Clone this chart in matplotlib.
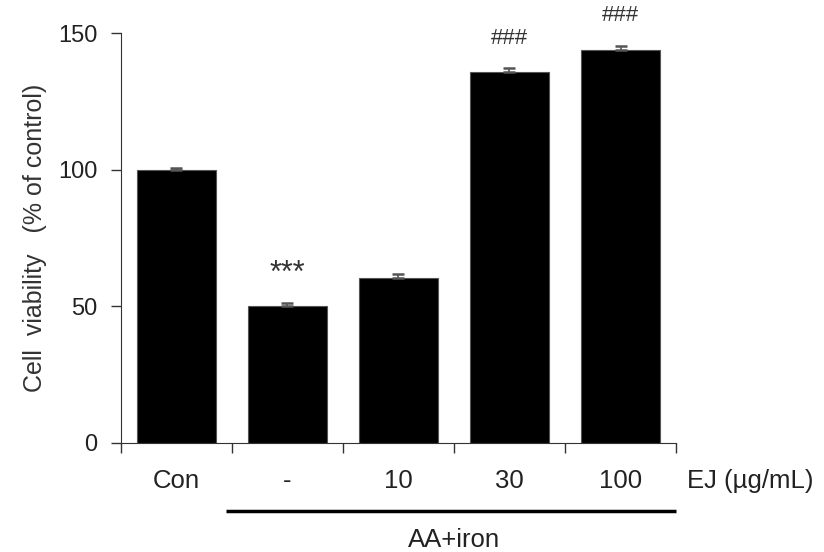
import matplotlib.pyplot as plt
import matplotlib.transforms as mtransforms

# Данные
groups = ['Con', '-', '10', '30', '100']
viability = [100.0, 50.2, 60.5, 135.6, 143.8]
errors = [0.6, 1.0, 1.5, 1.5, 1.5]
marks = ['', '***', '', '###', '###']

plt.rcParams['font.family'] = ['Liberation Sans', 'DejaVu Sans']

fig = plt.figure(figsize=(8.24, 5.52), dpi=100)
ax = fig.add_axes([0.1468, 0.1975, 0.6736, 0.7427])

x = list(range(len(groups)))
ax.bar(x, viability, width=0.71, color='black', edgecolor='#555555', linewidth=0.8, zorder=2)
ax.errorbar(x, viability, yerr=[[0] * len(errors), errors], fmt='none',
            ecolor='#555555', elinewidth=1.2, capsize=4, capthick=1.8, zorder=3)

# Знаки значимости
for xi, v, m in zip(x, viability, marks):
    if m == '***':
        ax.text(xi, v + 11.5, m, ha='center', va='center', fontsize=22,
                color='#333333', clip_on=False)
    elif m:
        ax.text(xi, v + 12.5, m, ha='center', va='center', fontsize=16,
                color='#333333', clip_on=False)

ax.set_xlim(-0.5, 4.5)
ax.set_ylim(0, 150)
ax.set_yticks([0, 50, 100, 150])
ax.set_xticks([-0.5, 0.5, 1.5, 2.5, 3.5, 4.5])
ax.set_xticklabels([])
ax.tick_params(axis='y', direction='out', length=7, width=1, colors='#333333',
               labelsize=17, pad=10)
ax.tick_params(axis='x', direction='out', length=7, width=1, colors='#333333')
for lbl in ax.get_yticklabels():
    lbl.set_color('#222222')

ax.spines['top'].set_visible(False)
ax.spines['right'].set_visible(False)
ax.spines['left'].set_color('#333333')
ax.spines['bottom'].set_color('#333333')

ax.set_ylabel('Cell  viability   (% of control)', fontsize=18, color='#333333', labelpad=8)

# Подписи групп под осью
trans = mtransforms.blended_transform_factory(ax.transData, ax.transAxes)
for xi, g in zip(x, groups):
    ax.text(xi, -0.093, g, transform=trans, ha='center', va='center',
            fontsize=18.5, color='#222222')
ax.text(4.6, -0.093, 'EJ (µg/mL)', transform=trans, ha='left', va='center',
        fontsize=18.5, color='#222222', clip_on=False)

ax.plot([0.45, 4.5], [-0.166, -0.166], transform=trans, color='black',
        linewidth=2.5, clip_on=False, solid_capstyle='butt')
ax.text(2.5, -0.237, 'AA+iron', transform=trans, ha='center', va='center',
        fontsize=18.5, color='#222222')

plt.savefig('out.png', dpi=100)
